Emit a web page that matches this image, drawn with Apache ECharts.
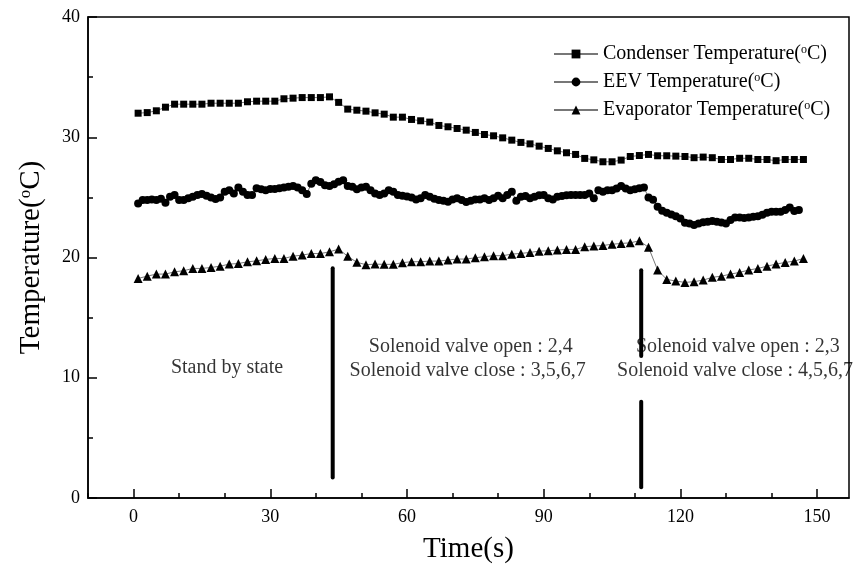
<!DOCTYPE html>
<html><head><meta charset="utf-8">
<script src="https://cdn.jsdelivr.net/npm/echarts@6/dist/echarts.min.js"></script>
<style>html,body{margin:0;padding:0;background:#fff}#c{width:860px;height:569px}</style>
</head><body><div id="c"></div><script>
// ---- data ----
const timeOdd = [1,3,5,7,9,11,13,15,17,19,21,23,25,27,29,31,33,35,37,39,41,43,45,47,49,51,53,55,57,59,61,63,65,67,69,71,73,75,77,79,81,83,85,87,89,91,93,95,97,99,101,103,105,107,109,111,113,115,117,119,121,123,125,127,129,131,133,135,137,139,141,143,145,147];
const condenser = [32.0,32.05,32.2,32.5,32.75,32.75,32.75,32.75,32.83,32.83,32.83,32.83,32.95,33.0,33.0,33.0,33.2,33.25,33.3,33.3,33.3,33.36,32.9,32.34,32.25,32.17,32.03,31.92,31.67,31.67,31.48,31.37,31.26,30.98,30.87,30.73,30.59,30.4,30.23,30.12,29.95,29.76,29.57,29.45,29.26,29.07,28.87,28.71,28.57,28.24,28.12,27.96,27.96,28.1,28.4,28.48,28.57,28.46,28.46,28.43,28.4,28.3,28.35,28.3,28.15,28.15,28.25,28.25,28.15,28.15,28.05,28.15,28.15,28.15];
const timeEEV = [1,2,3,4,5,6,7,8,9,10,11,12,13,14,15,16,17,18,19,20,21,22,23,24,25,26,27,28,29,30,31,32,33,34,35,36,37,38,39,40,41,42,43,44,45,46,47,48,49,50,51,52,53,54,55,56,57,58,59,60,61,62,63,64,65,66,67,68,69,70,71,72,73,74,75,76,77,78,79,80,81,82,83,84,85,86,87,88,89,90,91,92,93,94,95,96,97,98,99,100,101,102,103,104,105,106,107,108,109,110,111,112,113,114,115,116,117,118,119,120,121,122,123,124,125,126,127,128,129,130,131,132,133,134,135,136,137,138,139,140,141,142,143,144,145,146];
const eev = [24.5,24.78,24.78,24.83,24.78,24.89,24.56,25.05,25.2,24.78,24.78,24.92,25.05,25.2,25.28,25.14,25.0,24.86,25.0,25.47,25.6,25.33,25.83,25.47,25.2,25.2,25.75,25.67,25.6,25.69,25.69,25.75,25.83,25.89,25.94,25.83,25.6,25.28,26.14,26.42,26.28,26.0,25.94,26.1,26.3,26.42,25.94,25.89,25.67,25.83,25.89,25.6,25.33,25.2,25.33,25.6,25.47,25.2,25.14,25.08,25.0,24.83,24.92,25.2,25.05,24.89,24.78,24.72,24.64,24.83,24.92,24.78,24.61,24.72,24.83,24.83,24.92,24.78,24.92,25.14,24.92,25.2,25.47,24.72,25.05,25.11,24.92,25.05,25.17,25.2,24.92,24.83,25.05,25.11,25.17,25.2,25.2,25.2,25.2,25.33,24.92,25.6,25.47,25.6,25.6,25.74,25.94,25.74,25.6,25.67,25.75,25.83,25.0,24.8,24.22,23.88,23.72,23.58,23.44,23.25,22.89,22.83,22.7,22.83,22.94,22.97,23.03,22.97,22.92,22.83,23.11,23.33,23.33,23.28,23.33,23.39,23.44,23.55,23.72,23.8,23.8,23.8,23.94,24.16,23.86,23.94];
const evaporator = [18.26,18.45,18.62,18.62,18.81,18.9,19.09,19.09,19.17,19.28,19.45,19.5,19.64,19.72,19.84,19.92,19.92,20.11,20.2,20.33,20.33,20.47,20.7,20.1,19.6,19.4,19.45,19.43,19.43,19.57,19.65,19.65,19.7,19.7,19.79,19.87,19.87,19.98,20.07,20.15,20.15,20.28,20.34,20.42,20.53,20.56,20.62,20.67,20.67,20.9,20.95,21.0,21.1,21.17,21.22,21.39,20.85,18.96,18.18,18.04,17.93,17.99,18.12,18.35,18.45,18.62,18.76,18.96,19.09,19.28,19.45,19.59,19.7,19.92];
const seriesNames = ['Condenser Temperature(oC)','EEV Temperature(oC)','Evaporator Temperature(oC)'];
const xMajorTicks = [0,30,60,90,120,150];
const xMinorTicks = [-10,10,20,40,50,70,80,100,110,130,140];
const barTimes = [43.7, 111.4, 111.4];
const barTops = [19.1, 18.95, 8.0];
const barBottoms = [1.7, 11.8, 0.9];
const notes = ['Stand by state','Solenoid valve open : 2,4','Solenoid valve close : 3,5,6,7','Solenoid valve open : 2,3','Solenoid valve close : 4,5,6,7'];
const noteTimes = [20.5, 74.0, 73.3, 132.6, 132.0];
const noteTemps = [10.8, 12.55, 10.55, 12.55, 10.55];

// ---- build ----
const FONT = '"Liberation Serif","Times New Roman",serif';
const zip = (xs, ys) => xs.map((x, i) => [x, ys[i]]);
const supFmt = s => s.replace('(oC)', '({sup|o}C)');
const chart = echarts.init(document.getElementById('c'), null, {renderer: 'canvas'});

const dataSeries = [
  {name: seriesNames[0], data: zip(timeOdd, condenser), symbol: 'rect', symbolSize: 7},
  {name: seriesNames[1], data: zip(timeEEV, eev), symbol: 'circle', symbolSize: 8},
  {name: seriesNames[2], data: zip(timeOdd, evaporator), symbol: 'triangle', symbolSize: 9}
].map(s => Object.assign({
  type: 'line', xAxisIndex: 0, yAxisIndex: 0, showAllSymbol: true, animation: false,
  lineStyle: {color: '#777', width: 1}, itemStyle: {color: '#000'}, z: 3
}, s));

const barSeries = barTimes.map((t, i) => ({
  type: 'line', data: [[t, barTops[i]], [t, barBottoms[i]]], symbol: 'none',
  lineStyle: {color: '#000', width: 4, cap: 'round'}, animation: false, silent: true, z: 4
}));

const noteSeries = {
  type: 'scatter', symbolSize: 0, animation: false, silent: true, z: 2,
  data: notes.map((n, i) => ({name: n, value: [noteTimes[i], noteTemps[i]]})),
  label: {show: true, position: 'inside', formatter: p => p.name, color: '#000', fontSize: 20, fontFamily: FONT}
};

const supRich = size => ({
  sup: {fontSize: size, fontFamily: FONT, color: '#000', verticalAlign: 'top', lineHeight: size}
});

chart.setOption({
  backgroundColor: '#fff',
  animation: false,
  grid: {left: 88, right: 11, top: 17, bottom: 71, show: true, borderColor: '#000', borderWidth: 1.5, backgroundColor: 'transparent'},
  legend: {
    data: seriesNames, orient: 'vertical', left: 548, top: 39, itemWidth: 44, itemHeight: 11, itemGap: 8,
    formatter: supFmt,
    textStyle: {fontSize: 20, fontFamily: FONT, color: '#000', lineHeight: 20, rich: supRich(12)}
  },
  xAxis: [{
    type: 'value', min: -10, max: 157, position: 'bottom',
    name: 'Time(s)', nameLocation: 'middle', nameGap: 37,
    nameTextStyle: {fontSize: 29, fontFamily: FONT, color: '#000'},
    axisLine: {show: true, onZero: false, lineStyle: {color: '#000', width: 1.5}},
    axisTick: {show: true, inside: true, length: 9, lineStyle: {color: '#000', width: 1.5}, customValues: xMajorTicks},
    axisLabel: {show: true, fontSize: 18, fontFamily: FONT, color: '#000', margin: 10, customValues: xMajorTicks},
    splitLine: {show: false}
  }, {
    type: 'value', min: -10, max: 157, position: 'bottom',
    axisLine: {show: false, onZero: false},
    axisTick: {show: true, inside: true, length: 5, lineStyle: {color: '#000', width: 1.5}, customValues: xMinorTicks},
    axisLabel: {show: false}, splitLine: {show: false}
  }],
  yAxis: {
    type: 'value', min: 0, max: 40, interval: 10,
    name: 'Temperature({sup|o}C)', nameLocation: 'middle', nameGap: 42,
    nameTextStyle: {fontSize: 29, fontFamily: FONT, color: '#000', lineHeight: 29, rich: supRich(17)},
    axisLine: {show: true, onZero: false, lineStyle: {color: '#000', width: 1.5}},
    axisTick: {show: true, inside: true, length: 9, lineStyle: {color: '#000', width: 1.5}},
    minorTick: {show: true, splitNumber: 2, length: 5, lineStyle: {color: '#000', width: 1.5}},
    axisLabel: {fontSize: 18, fontFamily: FONT, color: '#000', margin: 8},
    splitLine: {show: false}
  },
  series: dataSeries.concat(barSeries, [noteSeries])
});
</script></body></html>
